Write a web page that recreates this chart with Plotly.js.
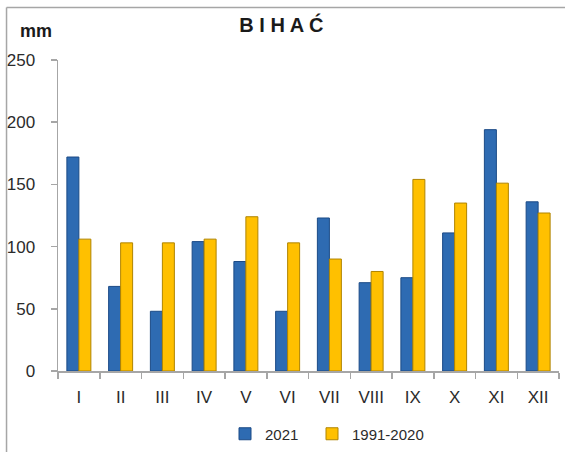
<!DOCTYPE html>
<html>
<head>
<meta charset="utf-8">
<script src="https://cdn.plot.ly/plotly-3.0.1.min.js"></script>
<style>html,body{margin:0;padding:0;background:#fff;}#chart{width:565px;height:452px;}</style>
</head>
<body>
<div id="chart"></div>
<script>
var months = ["I","II","III","IV","V","VI","VII","VIII","IX","X","XI","XII"];
var values2021 = [172, 68, 48, 104, 88, 48, 123, 71, 75, 111, 194, 136];
var valuesNormal = [106, 103, 103, 106, 124, 103, 90, 80, 154, 135, 151, 127];
var seriesNames = ["2021", "1991-2020"];
var yTicks = [0, 50, 100, 150, 200, 250];

var FONT = '"Liberation Sans", Arial, sans-serif';
var TXT = '#2b2b2b';

var traces = [
  {type:'bar', name:seriesNames[0], x:months, y:values2021, legend:'legend',
   marker:{color:'#2E6BB2', line:{color:'#1B4A86', width:1}}},
  {type:'bar', name:seriesNames[1], x:months, y:valuesNormal, legend:'legend2',
   marker:{color:'#FFC000', line:{color:'#B08400', width:1}}}
];

// pixel -> paper helpers (plot area 58..559.3 x, 60..370.7 y)
var W=565, H=452;
var L=58, R=559.3, T=60, B=370.7;
function px(v){return (v-L)/(R-L);}
function py(v){return (B-v)/(B-T);}

var legendBase = {orientation:'h', xanchor:'left', yanchor:'middle', xref:'container', yref:'container',
  font:{family:FONT, size:15, color:TXT}, bgcolor:'rgba(0,0,0,0)', itemwidth:30};

var layout = {
  width:W, height:H,
  margin:{l:L, r:W-R, t:T, b:H-B, pad:0},
  paper_bgcolor:'#fff', plot_bgcolor:'#fff',
  font:{family:FONT, color:TXT, size:17},
  title:{text:'B I H A Ć', font:{family:FONT, size:20, color:'#1a1a1a', weight:'bold'},
         xref:'container', x:0.498, xanchor:'center', yref:'container', y:1-25/H, yanchor:'middle'},
  barmode:'group', bargap:0.426, bargroupgap:0,
  showlegend:true,
  legend:Object.assign({}, legendBase, {x:225/W, y:1-434/H}),
  legend2:Object.assign({}, legendBase, {x:312/W, y:1-434/H}),
  xaxis:{type:'category', showline:true, linecolor:'#A6A6A6', linewidth:1.5,
         ticks:'outside', tickson:'boundaries', ticklen:6, tickcolor:'#A6A6A6', tickwidth:1.5,
         showgrid:false, zeroline:false, tickfont:{family:FONT, size:17, color:TXT}, ticklabelstandoff:10},
  yaxis:{range:[0,250], tickvals:yTicks, showline:true, linecolor:'#A6A6A6', linewidth:1.5,
         ticks:'outside', ticklen:6, tickcolor:'#A6A6A6', tickwidth:1.5,
         showgrid:false, zeroline:false, tickfont:{family:FONT, size:17, color:TXT}, ticklabelstandoff:12},
  annotations:[
    {text:'<b>mm</b>', xref:'paper', yref:'paper', x:px(36), y:py(31), xanchor:'center', yanchor:'middle',
     showarrow:false, font:{family:FONT, size:18, color:'#1a1a1a'}}
  ],
  shapes:[
    {type:'line', xref:'paper', yref:'paper', x0:px(6.5), x1:px(566), y0:py(7.5), y1:py(7.5), line:{color:'#A6A6A6', width:1.5}},
    {type:'line', xref:'paper', yref:'paper', x0:px(6.5), x1:px(6.5), y0:py(7.5), y1:py(453), line:{color:'#A6A6A6', width:1.5}}
  ]
};

Plotly.newPlot('chart', traces, layout, {displayModeBar:false, staticPlot:true});
</script>
</body>
</html>
